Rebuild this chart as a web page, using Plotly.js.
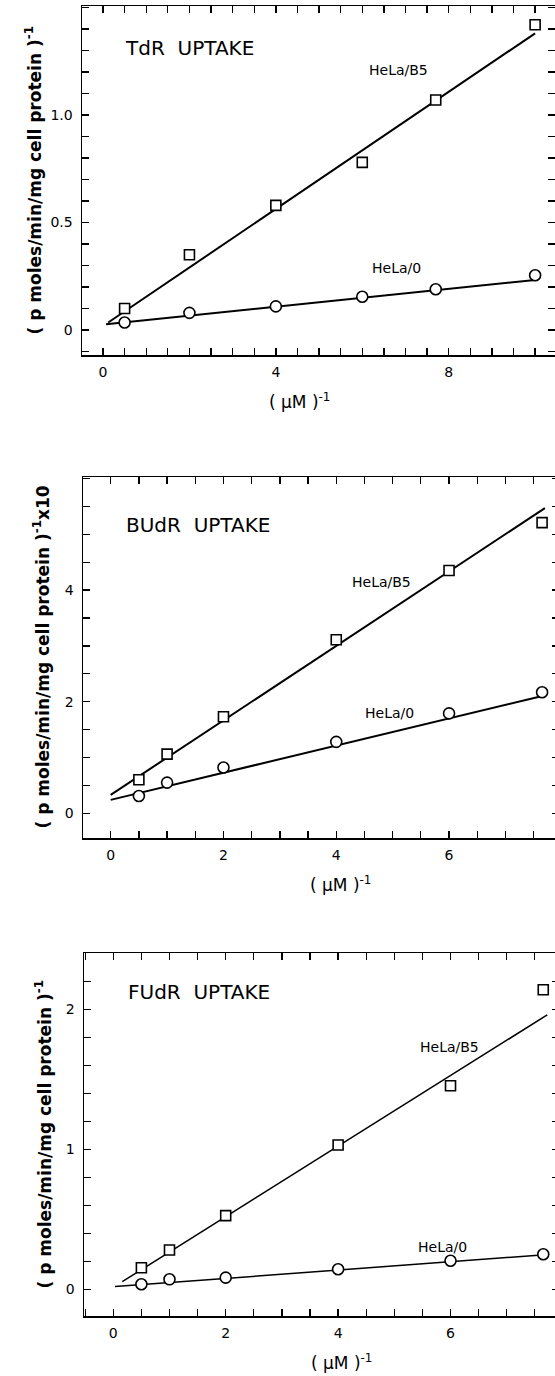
<!DOCTYPE html>
<html><head><meta charset="utf-8">
<script src="https://cdn.plot.ly/plotly-3.0.1.min.js"></script>
<style>html,body{margin:0;padding:0;overflow:hidden;background:#fff;width:555px;height:1376px}#chart{width:562px;height:1376px}</style>
</head><body><div id="chart"></div><script>
// ---- Panel 1: TdR uptake ----
const tdrX = [0.5, 2, 4, 6, 7.7, 10];
const tdrB5 = [0.10, 0.35, 0.58, 0.78, 1.07, 1.42];
const tdrH0 = [0.035, 0.08, 0.11, 0.155, 0.19, 0.255];
const tdrFitB5X = [0.12, 10.0];
const tdrFitB5Y = [0.035, 1.38];
const tdrFitH0X = [0.07, 10.0];
const tdrFitH0Y = [0.027, 0.233];
const tdrXLabels = ['0', '4', '8'];
const tdrYLabels = ['0', '0.5', '1.0'];

// ---- Panel 2: BUdR uptake ----
const budrX = [0.5, 1, 2, 4, 6, 7.65];
const budrB5 = [0.60, 1.06, 1.73, 3.11, 4.35, 5.21];
const budrH0 = [0.31, 0.55, 0.82, 1.28, 1.79, 2.17];
const budrFitB5X = [0.0, 7.7];
const budrFitB5Y = [0.33, 5.47];
const budrFitH0X = [0.0, 7.6];
const budrFitH0Y = [0.24, 2.09];
const budrXLabels = ['0', '2', '4', '6'];
const budrYLabels = ['0', '2', '4'];

// ---- Panel 3: FUdR uptake ----
const fudrX = [0.5, 1, 2, 4, 6, 7.65];
const fudrB5 = [0.154, 0.28, 0.526, 1.03, 1.454, 2.14];
const fudrH0 = [0.036, 0.071, 0.083, 0.143, 0.204, 0.25];
const fudrFitB5X = [0.16, 7.72];
const fudrFitB5Y = [0.054, 1.96];
const fudrFitH0X = [0.03, 7.62];
const fudrFitH0Y = [0.019, 0.245];
const fudrXLabels = ['0', '2', '4', '6'];
const fudrYLabels = ['0', '1', '2'];

const titles = ['TdR  UPTAKE', 'BUdR  UPTAKE', 'FUdR  UPTAKE'];
const seriesNames = ['HeLa/B5', 'HeLa/0'];
const yTitles = ['( p moles/min/mg cell protein )<sup>-1</sup>',
                 '( p moles/min/mg cell protein )<sup>-1</sup>x10',
                 '( p moles/min/mg cell protein )<sup>-1</sup>'];
const xTitle = '( \u03bcM )<sup>-1</sup>';

const W = 562, H = 1376;
const FONT = 'DejaVu Sans, Liberation Sans, sans-serif';

function steps(min, max, step) {
  const vals = [];
  const n0 = Math.ceil(min / step - 1e-9), n1 = Math.floor(max / step + 1e-9);
  for (let k = n0; k <= n1; k++) vals.push(+(k * step).toFixed(6));
  return vals;
}

// pixel boxes [left, right, top, bottom]
const boxes = [[82, 555, 6, 355], [83, 559, 477, 838], [84, 559, 953, 1316]];
const xr = [[-0.486, 10.46], [-0.491, 7.95], [-0.521, 7.93]];
const yr = [[-0.116, 1.507], [-0.443, 6.027], [-0.191, 2.402]];
const xStep = [0.5, 0.5, 0.5];
const yStep = [0.1, 0.5, 0.2];
const xLabs = [tdrXLabels, budrXLabels, fudrXLabels];
const yLabs = [tdrYLabels, budrYLabels, fudrYLabels];
const lineW = [2, 2, 1.5];

const data = [];
const panels = [
  [tdrX, tdrB5, tdrH0, tdrFitB5X, tdrFitB5Y, tdrFitH0X, tdrFitH0Y],
  [budrX, budrB5, budrH0, budrFitB5X, budrFitB5Y, budrFitH0X, budrFitH0Y],
  [fudrX, fudrB5, fudrH0, fudrFitB5X, fudrFitB5Y, fudrFitH0X, fudrFitH0Y]
];
panels.forEach((p, i) => {
  const xa = 'x' + (i + 1), ya = 'y' + (i + 1);
  const ln = {color: '#000', width: lineW[i]};
  data.push({x: p[3], y: p[4], xaxis: xa, yaxis: ya, mode: 'lines', line: ln, name: seriesNames[0] + ' fit', hoverinfo: 'skip'});
  data.push({x: p[5], y: p[6], xaxis: xa, yaxis: ya, mode: 'lines', line: ln, name: seriesNames[1] + ' fit', hoverinfo: 'skip'});
  data.push({x: p[0], y: p[1], xaxis: xa, yaxis: ya, mode: 'markers', name: seriesNames[0],
    marker: {symbol: 'square', size: 10, color: '#fff', line: {color: '#000', width: 1.6}}});
  data.push({x: p[0], y: p[2], xaxis: xa, yaxis: ya, mode: 'markers', name: seriesNames[1],
    marker: {symbol: 'circle', size: 11, color: '#fff', line: {color: '#000', width: 1.6}}});
});

const layout = {
  width: W, height: H, margin: {l: 0, r: 0, t: 0, b: 0},
  paper_bgcolor: '#fff', plot_bgcolor: '#fff', showlegend: false,
  font: {family: FONT, color: '#000', size: 14},
  annotations: []
};
const labelPos = [
  {t: [0.46, 1.31], b5: [6.11, 1.21], h0: [6.18, 0.29]},
  {t: [0.24, 5.17], b5: [4.24, 4.15], h0: [4.47, 1.80]},
  {t: [0.23, 2.12], b5: [5.42, 1.73], h0: [5.39, 0.30]}
];
const xTitleX = [300, 340, 341];
const yTitleX = [33, 42, 43];
for (let i = 0; i < 3; i++) {
  const [l, r, t, b] = boxes[i];
  const common = {showgrid: false, zeroline: false, showline: true, linecolor: '#000', linewidth: 1.5,
    mirror: 'ticks', ticks: 'inside', ticklen: 7, tickwidth: 1.3, tickcolor: '#000',
    tickmode: 'array', fixedrange: true, tickfont: {family: FONT, size: 14, color: '#000'}};
  layout['xaxis' + (i + 1)] = Object.assign({}, common, {
    domain: [l / W, r / W], range: xr[i], anchor: 'y' + (i + 1),
    tickvals: xLabs[i].map(Number), ticktext: xLabs[i], ticklabelstandoff: 4,
    minor: {tickmode: 'array', tickvals: steps(xr[i][0], xr[i][1], xStep[i]), ticks: 'inside', ticklen: 7, tickwidth: 1.3, tickcolor: '#000', showgrid: false}});
  layout['yaxis' + (i + 1)] = Object.assign({}, common, {
    domain: [1 - b / H, 1 - t / H], range: yr[i], anchor: 'x' + (i + 1),
    tickvals: yLabs[i].map(Number), ticktext: yLabs[i], ticklabelstandoff: 5,
    minor: {tickmode: 'array', tickvals: steps(yr[i][0], yr[i][1], yStep[i]), ticks: 'inside', ticklen: 7, tickwidth: 1.3, tickcolor: '#000', showgrid: false}});
  const xa = 'x' + (i + 1), ya = 'y' + (i + 1);
  const lp = labelPos[i];
  layout.annotations.push({xref: xa, yref: ya, x: lp.t[0], y: lp.t[1], text: titles[i], showarrow: false,
    xanchor: 'left', yanchor: 'middle', font: {family: FONT, size: 20, color: '#000'}});
  layout.annotations.push({xref: xa, yref: ya, x: lp.b5[0], y: lp.b5[1], text: seriesNames[0], showarrow: false,
    xanchor: 'left', yanchor: 'middle', font: {family: FONT, size: 14, color: '#000'}});
  layout.annotations.push({xref: xa, yref: ya, x: lp.h0[0], y: lp.h0[1], text: seriesNames[1], showarrow: false,
    xanchor: 'left', yanchor: 'middle', font: {family: FONT, size: 14, color: '#000'}});
  layout.annotations.push({xref: 'paper', yref: 'paper', x: yTitleX[i] / W, y: 1 - (t + b) / 2 / H, text: yTitles[i],
    textangle: -90, showarrow: false, xanchor: 'center', yanchor: 'middle',
    font: {family: FONT, size: 17, color: '#000', weight: 'bold'}});
  layout.annotations.push({xref: 'paper', yref: 'paper', x: xTitleX[i] / W, y: 1 - (b + 46) / H, text: xTitle,
    showarrow: false, xanchor: 'center', yanchor: 'middle', font: {family: FONT, size: 17, color: '#000'}});
}
Plotly.newPlot('chart', data, layout, {displayModeBar: false, staticPlot: true});
</script></body></html>
